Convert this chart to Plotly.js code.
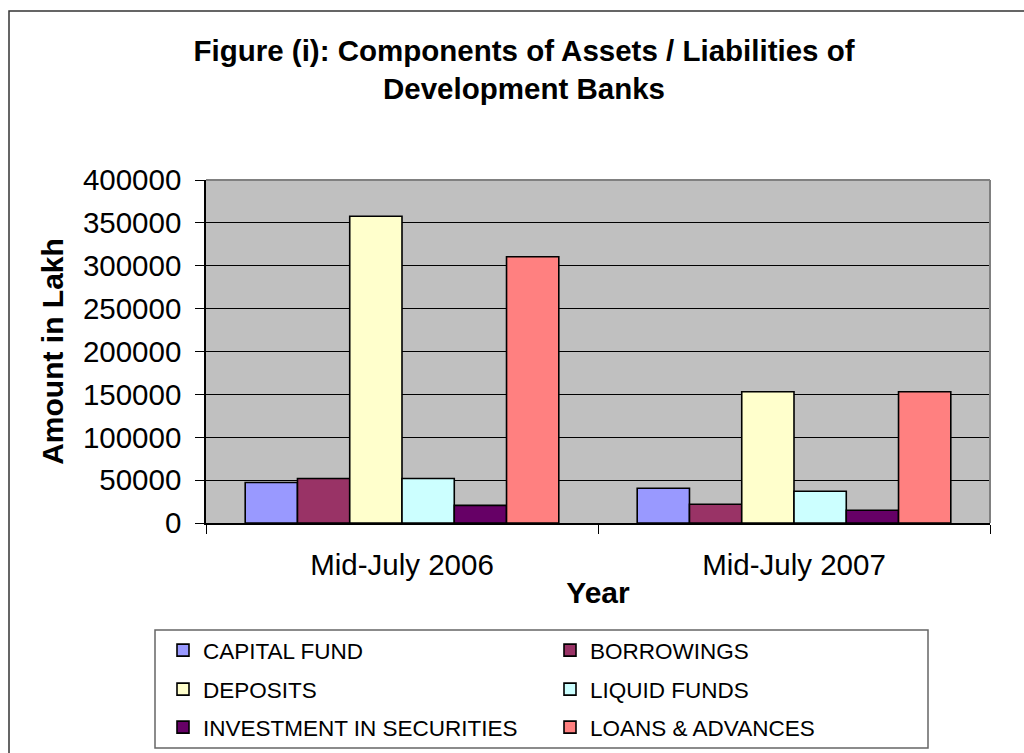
<!DOCTYPE html>
<html>
<head>
<meta charset="utf-8">
<script src="https://cdn.plot.ly/plotly-3.0.1.min.js"></script>
<style>
  html, body { margin: 0; padding: 0; background: #ffffff; }
  #chart { width: 1024px; height: 753px; }
</style>
</head>
<body>
<div id="chart"></div>
<script>
// ---- Data ----
const categories = ["Mid-July 2006", "Mid-July 2007"];
const seriesNames = ["CAPITAL FUND", "BORROWINGS", "DEPOSITS", "LIQUID FUNDS", "INVESTMENT IN SECURITIES", "LOANS & ADVANCES"];
const capitalFund = [47300, 40600];
const borrowings = [51900, 21900];
const deposits = [357800, 153100];
const liquidFunds = [51900, 37100];
const investmentInSecurities = [20600, 14800];
const loansAndAdvances = [310500, 153100];
const yTickValues = [0, 50000, 100000, 150000, 200000, 250000, 300000, 350000, 400000];

const seriesValues = [capitalFund, borrowings, deposits, liquidFunds, investmentInSecurities, loansAndAdvances];
const seriesColors = ["#9999FF", "#993366", "#FFFFCC", "#CCFFFF", "#660066", "#FF8080"];
const legendIds = ["legend", "legend", "legend2", "legend2", "legend3", "legend3"];

const FONT = "Liberation Sans, Arial, Helvetica, sans-serif";

const traces = seriesNames.map((name, i) => ({
  type: "bar",
  name: name,
  x: categories,
  y: seriesValues[i],
  legend: legendIds[i],
  marker: { color: seriesColors[i], line: { color: "#000000", width: 1.6 } },
  hoverinfo: "x+y+name"
}));

// Plot area geometry in pixels (used to convert decoration positions to paper coords)
const L = 206, R = 990, T = 180, B = 523;
const W = 1024, H = 753;
const px = x => (x - L) / (R - L);
const py = y => (B - y) / (B - T);

const legendCommon = {
  orientation: "h",
  xref: "container", yref: "container",
  xanchor: "left", yanchor: "top",
  entrywidth: 342, entrywidthmode: "pixels",
  bgcolor: "rgba(0,0,0,0)", borderwidth: 0,
  font: { family: FONT, size: 22.5, color: "#000000" },
  traceorder: "normal"
};

const layout = {
  width: W, height: H,
  paper_bgcolor: "#ffffff",
  plot_bgcolor: "#C0C0C0",
  margin: { l: L, r: W - R, t: T, b: H - B, autoexpand: false },
  font: { family: FONT, color: "#000000" },
  title: {
    text: "<b>Figure (i): Components of Assets / Liabilities of<br>Development Banks</b>",
    font: { family: FONT, size: 29.5, color: "#000000" },
    xref: "container", yref: "container",
    x: 524 / W, xanchor: "center",
    y: 1 - 61 / H, yanchor: "top"
  },
  barmode: "group",
  bargap: 0.2,
  bargroupgap: 0,
  xaxis: {
    type: "category",
    tickson: "boundaries",
    ticks: "outside", ticklen: 9, tickwidth: 1, tickcolor: "#000000",
    showline: true, linecolor: "#000000", linewidth: 1.5,
    showgrid: false, zeroline: false,
    tickfont: { family: FONT, size: 29.5, color: "#000000" },
    ticklabelstandoff: 15,
    title: { text: "<b>Year</b>", font: { family: FONT, size: 30, color: "#000000" }, standoff: 2 },
    fixedrange: true
  },
  yaxis: {
    range: [0, 400000],
    tickvals: yTickValues,
    tickformat: "d",
    ticks: "outside", ticklen: 9, tickwidth: 1, tickcolor: "#000000",
    showline: true, linecolor: "#000000", linewidth: 1.5,
    showgrid: true, gridcolor: "#000000", gridwidth: 1,
    zeroline: false,
    tickfont: { family: FONT, size: 29.5, color: "#000000" },
    ticklabelstandoff: 8,
    title: { text: "<b>Amount in Lakh</b>", font: { family: FONT, size: 30, color: "#000000" }, standoff: 10 },
    fixedrange: true
  },
  legend: Object.assign({}, legendCommon, { x: 163 / W, y: 1 - 629 / H }),
  legend2: Object.assign({}, legendCommon, { x: 163 / W, y: 1 - 668 / H }),
  legend3: Object.assign({}, legendCommon, { x: 163 / W, y: 1 - 706 / H }),
  shapes: [
    // plot-area frame (top and right, grey)
    { type: "line", xref: "paper", yref: "paper", x0: 0, x1: 1, y0: 1, y1: 1, line: { color: "#808080", width: 2 } },
    { type: "line", xref: "paper", yref: "paper", x0: 1, x1: 1, y0: 0, y1: 1, line: { color: "#808080", width: 2 } },
    // legend box
    { type: "rect", xref: "paper", yref: "paper",
      x0: px(155), x1: px(928), y0: py(748), y1: py(630),
      line: { color: "#666666", width: 1.5 }, fillcolor: "rgba(0,0,0,0)" },
    // outer chart border
    { type: "rect", xref: "paper", yref: "paper",
      x0: px(9), x1: px(1040), y0: py(770), y1: py(11),
      line: { color: "#333333", width: 1.5 }, fillcolor: "rgba(0,0,0,0)" }
  ],
  showlegend: true
};

Plotly.newPlot("chart", traces, layout, { displayModeBar: false, staticPlot: false, responsive: false });
</script>
</body>
</html>
